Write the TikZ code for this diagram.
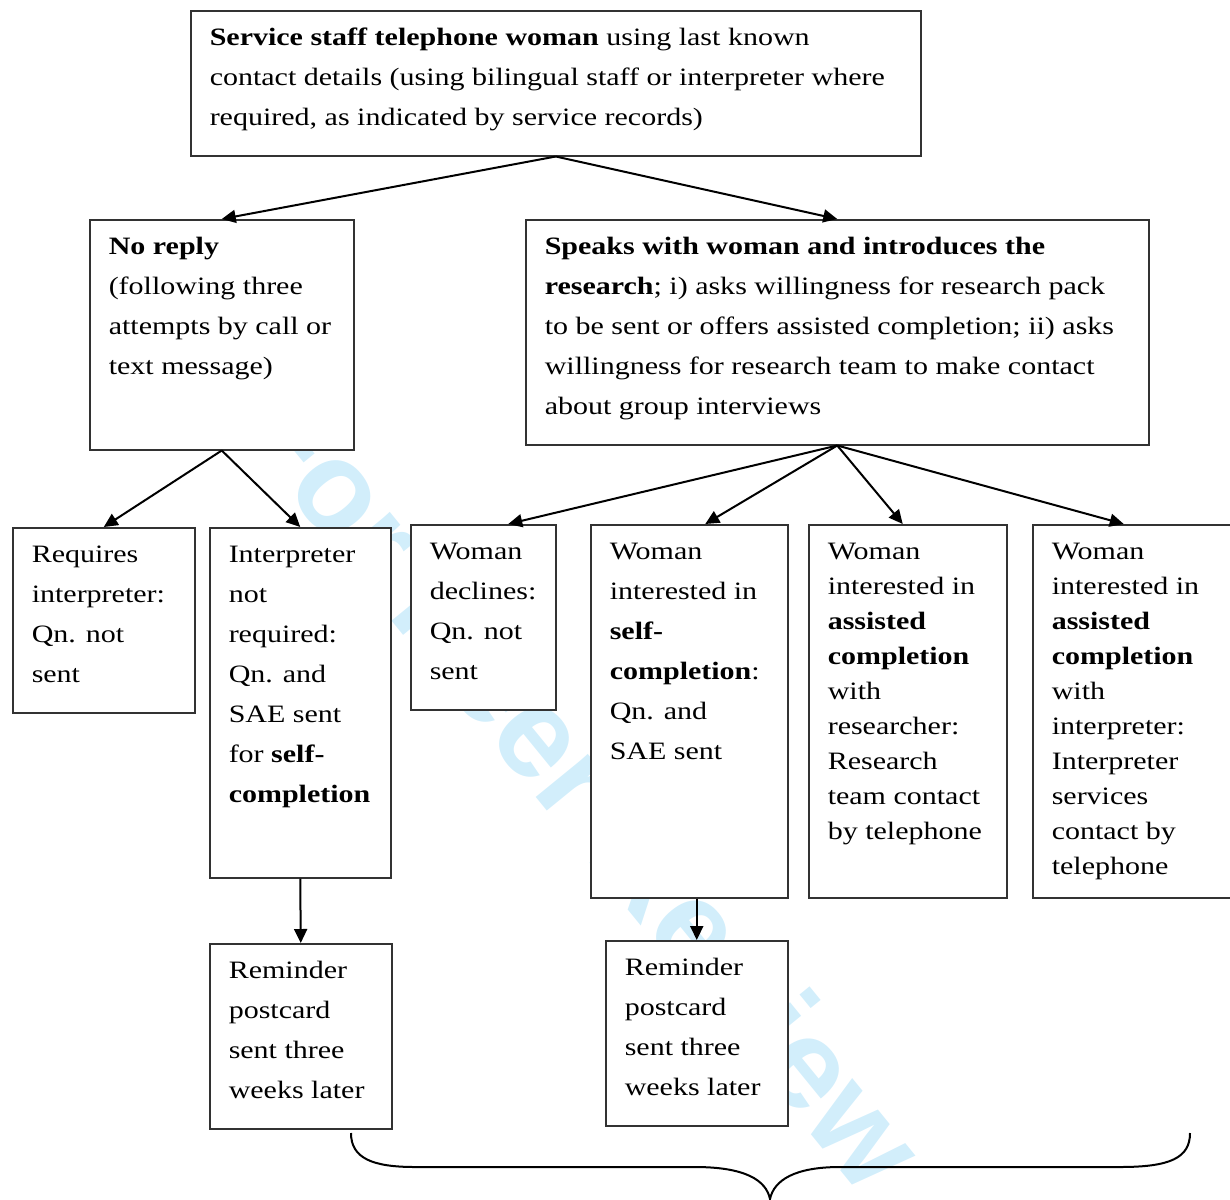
\documentclass[tikz,border=0pt]{standalone}
\usepackage{fontspec}
\setmainfont{Liberation Serif}[FakeStretch=1.2]
\newfontfamily\wmfont{Liberation Sans}
\usetikzlibrary{arrows.meta,calc}
\definecolor{wmblue}{RGB}{210,238,251}
\definecolor{boxline}{RGB}{50,50,50}
% one unit of the picture is one pixel of the page
\newdimen\px \px=0.5pt
\newcommand{\boxtxt}[3]{\parbox[t][#2\px][t]{#1\px}{\raggedright\strut #3}}
\tikzset{
  stepbox/.style={rectangle, draw=boxline, fill=white, line width=0.75pt,
                  anchor=north west, inner xsep=9.5pt, inner ysep=3.5pt,
                  font=\fontsize{12.5pt}{20pt}\selectfont},
  tightbox/.style={stepbox, inner ysep=5.25pt,
                   font=\fontsize{12.5pt}{17.5pt}\selectfont},
  arrow/.style={-{Triangle[length=7pt,width=6.5pt]}, line width=1pt},
  wmark/.style={text=wmblue, inner sep=0pt,
                font=\wmfont\bfseries\fontsize{64pt}{64pt}\selectfont}
}

\begin{document}
\begin{tikzpicture}[x=0.5pt, y=-0.5pt]
\useasboundingbox (0,0) rectangle (1230,1199);
\node[wmark, rotate=-50.8] (wm) at (584,784) {For Peer Review};

% first call
\node[stepbox] (top) at (190,10) {\boxtxt{692}{131}{\textbf{Service staff telephone woman} using last known\\
  contact details (using bilingual staff or interpreter where\\
  required, as indicated by service records)}};
\node[stepbox] (noreply) at (89,219) {\boxtxt{226}{216}{\textbf{No reply}\\
  (following three\\ attempts by call or\\ text message)}};
\node[stepbox] (speaks) at (525,219) {\boxtxt{585}{211}{\textbf{Speaks with woman and introduces the}\\
  \textbf{research}; i) asks willingness for research pack\\
  to be sent or offers assisted completion; ii) asks\\
  willingness for research team to make contact\\
  about group interviews}};

% outcomes
\node[stepbox] (needinterp) at (12,527) {\boxtxt{144}{171}{Requires\\ interpreter:\\ Qn. not\\ sent}};
\node[stepbox] (nointerp) at (209,527) {\boxtxt{143}{336}{Interpreter\\ not\\ required:\\ Qn. and\\
  SAE sent\\ for \textbf{self-}\\ \textbf{completion}}};
\node[stepbox] (declines) at (410,524) {\boxtxt{107}{171}{Woman\\ declines:\\ Qn. not\\ sent}};
\node[stepbox] (selfcomp) at (590,524) {\boxtxt{159}{359}{Woman\\ interested in\\ \textbf{self-}\\
  \textbf{completion}:\\ Qn. and\\ SAE sent}};
\node[tightbox] (assistres) at (808,524) {\boxtxt{160}{352}{Woman\\ interested in\\ \textbf{assisted}\\
  \textbf{completion}\\ with\\ researcher:\\ Research\\ team contact\\ by telephone}};
\node[tightbox] (assistint) at (1032,524) {\boxtxt{162}{352}{Woman\\ interested in\\ \textbf{assisted}\\
  \textbf{completion}\\ with\\ interpreter:\\ Interpreter\\ services\\ contact by\\ telephone}};

% reminders
\node[stepbox] (remindA) at (209,943) {\boxtxt{144}{171}{Reminder\\ postcard\\ sent three\\ weeks later}};
\node[stepbox] (remindB) at (605,940) {\boxtxt{144}{171}{Reminder\\ postcard\\ sent three\\ weeks later}};

\draw[arrow] (top.south) -- (noreply.north);
\draw[arrow] (top.south) -- (speaks.north);
\draw[arrow] (noreply.south) -- (needinterp.north);
\draw[arrow] (noreply.south) -- (nointerp.north);
\draw[arrow] (speaks.south) -- ($(declines.north)+(25,0)$);
\draw[arrow] (speaks.south) -- ($(selfcomp.north)+(16,0)$);
\draw[arrow] (speaks.south) -- ($(assistres.north)+(-5,0)$);
\draw[arrow] (speaks.south) -- ($(assistint.north)+(-9,0)$);
\draw[arrow] (nointerp.south) -- (remindA.north);
\draw[arrow] (remindB.north |- selfcomp.south) -- (remindB.north);

% brace under the reminders
\draw[line width=1pt] (351,1133) .. controls (351,1158) and (372,1167) .. (415,1167)
  -- (695,1167) .. controls (745,1167) and (766,1180) .. (770,1199)
  .. controls (774,1180) and (795,1167) .. (840,1167)
  -- (1120,1167) .. controls (1170,1167) and (1190,1158) .. (1190,1133);
\end{tikzpicture}
\end{document}
